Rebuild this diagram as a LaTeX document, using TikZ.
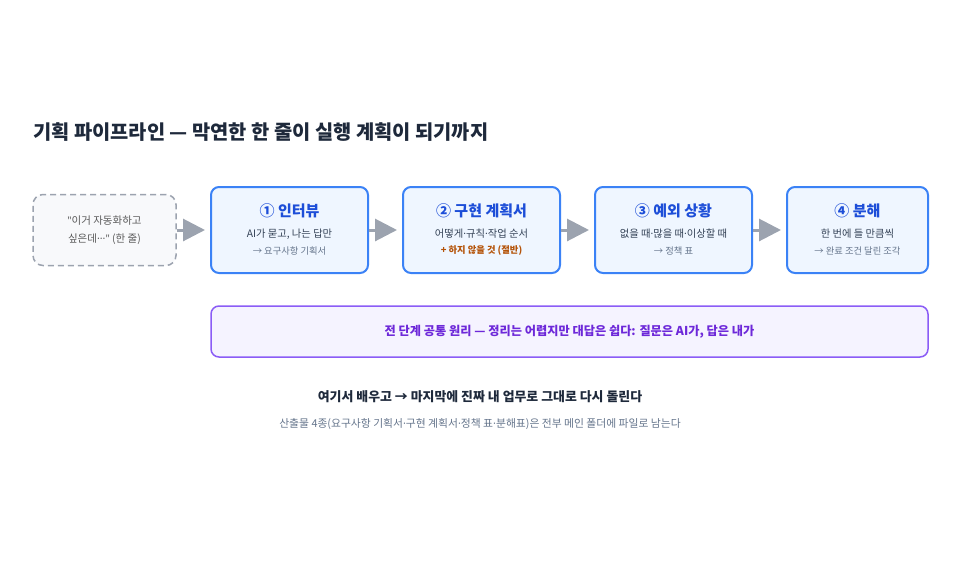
\documentclass[tikz,border=0pt]{standalone}
\usepackage{fontspec}
\setmainfont{Noto Sans CJK KR}
\newfontfamily\latinfont{Noto Sans}
\newcommand\md{{\latinfont ·}}
\usetikzlibrary{arrows.meta}

\definecolor{ink}{HTML}{1E293B}
\definecolor{bluedge}{HTML}{3B82F6}
\definecolor{bluefill}{HTML}{EFF6FF}
\definecolor{bluetxt}{HTML}{1D4ED8}
\definecolor{bodytxt}{HTML}{334155}
\definecolor{subtxt}{HTML}{64748B}
\definecolor{warn}{HTML}{B45309}
\definecolor{greyedge}{HTML}{9CA3AF}
\definecolor{greyfill}{HTML}{F8F9FB}
\definecolor{violetedge}{HTML}{8B5CF6}
\definecolor{violetfill}{HTML}{F5F3FF}
\definecolor{violettxt}{HTML}{6D28D9}

\begin{document}
\begin{tikzpicture}[x=1pt,y=-1pt,
    stage/.style={draw=bluedge,fill=bluefill,line width=2pt,rounded corners=8pt,minimum height=86pt},
    stagettl/.style={text=bluetxt,font=\fontsize{15}{17}\selectfont\bfseries},
    stageln/.style={text=bodytxt,font=\fontsize{10.3}{12}\selectfont},
    stageout/.style={text=subtxt,font=\fontsize{9.3}{11}\selectfont},
    flow/.style={draw=greyedge,line width=3pt,-{Triangle[length=22pt,width=22pt]},shorten >=5pt}]
  \useasboundingbox (0,0) rectangle (960,565);
  \node[anchor=west,inner sep=0pt,text=ink,font=\fontsize{19.8}{22}\selectfont\bfseries] (title) at (33,132)
    {기획 파이프라인 — 막연한 한 줄이 실행 계획이 되기까지};
  % starting point
  \node[draw=greyedge,dashed,dash pattern=on 6pt off 4pt,line width=1.5pt,fill=greyfill,rounded corners=10pt,
    minimum width=143pt,minimum height=71pt,align=center,text=black!65,
    font=\fontsize{10.5}{18}\selectfont] (s) at (104.5,230)
    {{\latinfont "}이거 자동화하고\\싶은데{\latinfont ···"} (한 줄)};
  % the four stages
  \node[stage,minimum width=157pt] (b1) at (289.5,230) {};
  \node[stage,minimum width=157pt] (b2) at (481.5,230) {};
  \node[stage,minimum width=157pt] (b3) at (673.5,230) {};
  \node[stage,minimum width=141pt] (b4) at (857.5,230) {};
  \node[stagettl] (t1) at ([yshift=19pt]b1.center) {① 인터뷰};
  \node[stageln] (l1) at ([yshift=-4pt]b1.center) {AI가 묻고, 나는 답만};
  \node[stageout] (o1) at ([yshift=-21pt]b1.center) {→ 요구사항 기획서};
  \node[stagettl] (t2) at ([yshift=19pt]b2.center) {② 구현 계획서};
  \node[stageln] (l2) at ([yshift=-4pt]b2.center) {어떻게\md 규칙\md 작업 순서};
  \node[stageout,text=warn,font=\fontsize{9.3}{11}\selectfont\bfseries] (o2) at ([yshift=-21pt]b2.center) {+ 하지 않을 것 (절반)};
  \node[stagettl] (t3) at ([yshift=19pt]b3.center) {③ 예외 상황};
  \node[stageln] (l3) at ([yshift=-4pt]b3.center) {없을 때\md 많을 때\md 이상할 때};
  \node[stageout] (o3) at ([yshift=-21pt]b3.center) {→ 정책 표};
  \node[stagettl] (t4) at ([yshift=19pt]b4.center) {④ 분해};
  \node[stageln] (l4) at ([yshift=-4pt]b4.center) {한 번에 들 만큼씩};
  \node[stageout] (o4) at ([yshift=-21pt]b4.center) {→ 완료 조건 달린 조각};
  \foreach \a/\b in {s/b1,b1/b2,b2/b3,b3/b4}
    \draw[flow] (\a.east) -- (\b.west);
  % shared principle
  \node[draw=violetedge,fill=violetfill,line width=1.5pt,rounded corners=8pt,minimum width=717pt,minimum height=51pt,
    text=violettxt,font=\fontsize{12.2}{14}\selectfont\bfseries] (rule) at (569.5,331.5)
    {전 단계 공통 원리 — 정리는 어렵지만 대답은 쉽다: 질문은 AI가, 답은 내가};
  \node[text=ink,font=\fontsize{12.9}{15}\selectfont\bfseries] (next) at (480,397)
    {여기서 배우고 → 마지막에 진짜 내 업무로 그대로 다시 돌린다};
  \node[text=subtxt,font=\fontsize{10.8}{13}\selectfont] (note) at (480,424)
    {산출물 4종(요구사항 기획서\md 구현 계획서\md 정책 표\md 분해표)은 전부 메인 폴더에 파일로 남는다};
\end{tikzpicture}
\end{document}
